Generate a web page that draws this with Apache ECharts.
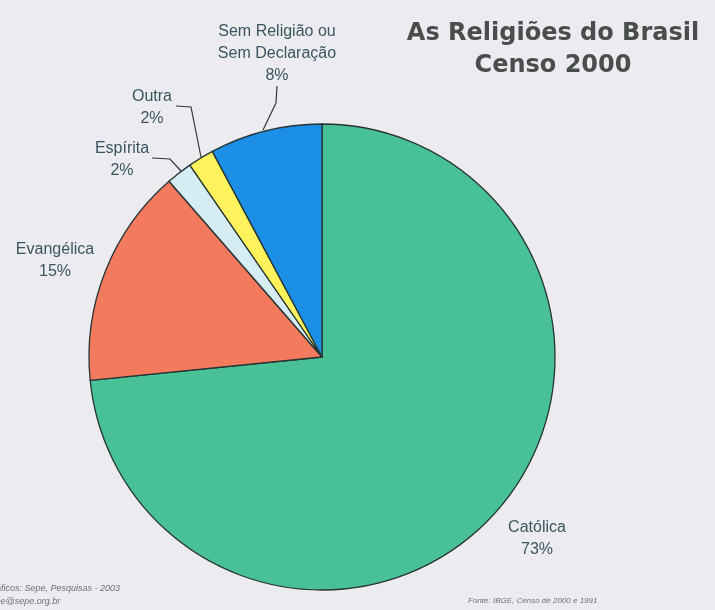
<!DOCTYPE html>
<html>
<head>
<meta charset="utf-8">
<script src="https://cdn.jsdelivr.net/npm/echarts@6/dist/echarts.min.js"></script>
<style>
  html, body { margin: 0; padding: 0; background: #ececf0; }
  #chart { width: 715px; height: 610px; }
</style>
</head>
<body>
<div id="chart"></div>
<script>
// dados do censo (percentuais)
const categories = ['Católica', 'Evangélica', 'Espírita', 'Outra', 'Sem Religião ou\nSem Declaração']
const values = [73.4, 15.2, 1.8, 1.8, 7.8]
const colors = ['#48c196', '#f47a5e', '#d6ecf3', '#fff25c', '#1b8fe6']

// posição dos rótulos e linhas guia (layout apenas)
const labelPos = [[537, 539], [55, 261], [122, 160], [152, 108], [277, 54]]
const guideLines = [
  null,
  null,
  [[181, 171], [170, 159], [152, 158]],
  [[201, 157], [191, 107], [176, 106]],
  [[263, 130], [276, 103], [277, 86]]
]

const chart = echarts.init(document.getElementById('chart'))

const option = {
  backgroundColor: '#ececf0',
  animation: false,
  title: {
    text: 'As Religiões do Brasil\nCenso 2000',
    left: 548,
    top: 13,
    textAlign: 'center',
    textStyle: {
      fontFamily: 'DejaVu Sans, sans-serif',
      fontSize: 24,
      fontWeight: 'bold',
      color: '#4a4d4d',
      lineHeight: 32
    }
  },
  graphic: [
    {
      type: 'text',
      left: -14,
      top: 582,
      style: {
        text: 'Gráficos: Sepe, Pesquisas - 2003\nsepe@sepe.org.br',
        font: 'italic 9px Liberation Sans, Arial, sans-serif',
        fill: '#6a6f78',
        lineHeight: 13
      }
    },
    {
      type: 'text',
      left: 468,
      top: 597,
      style: {
        text: 'Fonte: IBGE, Censo de 2000 e 1991',
        font: 'italic 8px Liberation Sans, Arial, sans-serif',
        fill: '#6a6f78'
      }
    }
  ],
  series: [
    {
      type: 'pie',
      center: [322, 357],
      radius: 233,
      startAngle: 90,
      clockwise: true,
      percentPrecision: 0,
      avoidLabelOverlap: false,
      itemStyle: {
        borderColor: '#263434',
        borderWidth: 1.3
      },
      label: {
        show: true,
        position: 'outside',
        formatter: '{b}\n{d}%',
        fontFamily: 'Liberation Sans, Arial, sans-serif',
        fontSize: 16,
        lineHeight: 22,
        color: '#3a5560',
        align: 'center'
      },
      labelLine: {
        lineStyle: { color: '#2e3a3a', width: 1.2 }
      },
      labelLayout: function (params) {
        const p = labelPos[params.dataIndex]
        const res = { x: p[0], y: p[1], align: 'center', verticalAlign: 'middle' }
        if (guideLines[params.dataIndex]) {
          res.labelLinePoints = guideLines[params.dataIndex]
        }
        return res
      },
      emphasis: { disabled: true },
      data: categories.map((name, i) => ({
        name: name,
        value: values[i],
        itemStyle: { color: colors[i] },
        labelLine: { show: !!guideLines[i] }
      }))
    }
  ]
}

chart.setOption(option)
</script>
</body>
</html>
